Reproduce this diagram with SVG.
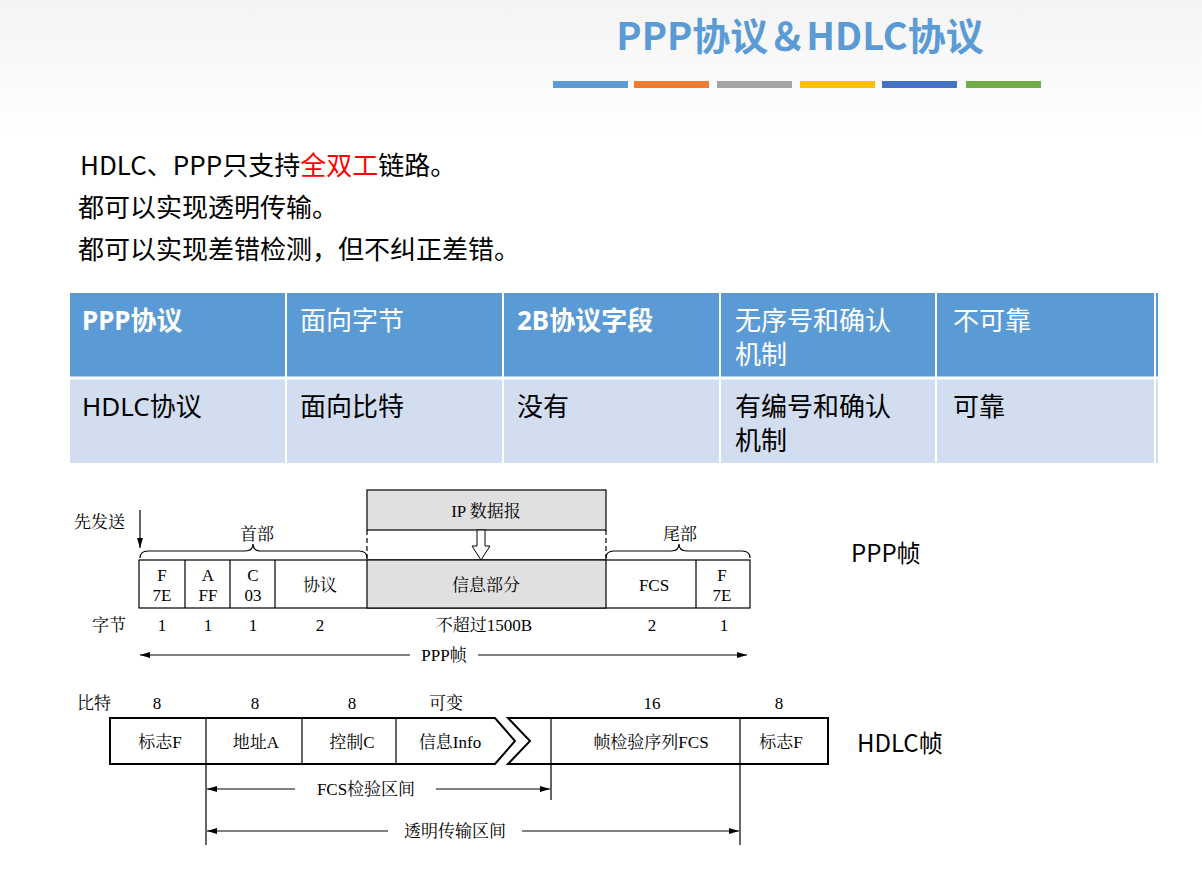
<svg xmlns="http://www.w3.org/2000/svg" width="1202" height="881" viewBox="0 0 1202 881">
<defs>
<linearGradient id="bg" x1="0" y1="0" x2="0" y2="1"><stop offset="0" stop-color="#f4f4f4"/><stop offset="0.15" stop-color="#ffffff"/><stop offset="1" stop-color="#ffffff"/></linearGradient>
<marker id="ar" viewBox="0 0 10 6" refX="10" refY="3" markerWidth="10" markerHeight="6" orient="auto-start-reverse" markerUnits="userSpaceOnUse"><path d="M0,0L10,3L0,6z" fill="#000"/></marker>
<style>
.s{font-family:"Noto Sans CJK SC","Noto Sans",sans-serif}
.f{font-family:"Liberation Serif","Noto Serif CJK SC","Noto Sans CJK SC",serif;font-size:17px;fill:#000}
.th{font-family:"Noto Sans","Noto Sans CJK SC",sans-serif;font-size:26px;fill:#fff}
.td{font-family:"Noto Sans","Noto Sans CJK SC",sans-serif;font-size:26px;fill:#000}
.b{fill:#fff;stroke:#000;stroke-width:1.2}
.l{stroke:#000;stroke-width:1.2;fill:none}
</style>
</defs>
<rect width="1202" height="881" fill="url(#bg)"/>
<text x="800" y="50" text-anchor="middle" class="s" font-size="38" font-weight="bold" fill="#5b9bd5">PPP协议＆HDLC协议</text>
<g id="bars">
<rect x="553" y="81" width="75" height="7" fill="#5b9bd5"/><rect x="634" y="81" width="75" height="7" fill="#ed7d31"/><rect x="717" y="81" width="75" height="7" fill="#a5a5a5"/><rect x="800" y="81" width="75" height="7" fill="#ffc000"/><rect x="882" y="81" width="75" height="7" fill="#4472c4"/><rect x="966" y="81" width="75" height="7" fill="#70ad47"/>
</g>
<g class="s" font-size="26" fill="#000">
<text x="80" y="175">HDLC、PPP只支持<tspan fill="#ff0000">全双工</tspan>链路。</text>
<text x="78" y="217">都可以实现透明传输。</text>
<text x="78" y="259">都可以实现差错检测，但不纠正差错。</text>
</g>
<g id="table">
<rect x="70" y="293" width="1088" height="84" fill="#5b9bd5"/>
<rect x="70" y="379" width="1088" height="84" fill="#d2deef"/>
<g stroke="#fff" stroke-width="2"><line x1="286" y1="293" x2="286" y2="463"/><line x1="503" y1="293" x2="503" y2="463"/><line x1="720" y1="293" x2="720" y2="463"/><line x1="936" y1="293" x2="936" y2="463"/><line x1="1155" y1="293" x2="1155" y2="463"/><line x1="70" y1="378" x2="1158" y2="378" stroke-width="3"/></g>
<text class="th" font-weight="bold" x="82" y="330">PPP协议</text>
<text class="th" x="300" y="330">面向字节</text>
<text class="th" font-weight="bold" x="517" y="330">2B协议字段</text>
<text class="th" x="735" y="330">无序号和确认</text><text class="th" x="735" y="364">机制</text>
<text class="th" x="953" y="330">不可靠</text>
<text class="td" x="82" y="416">HDLC协议</text>
<text class="td" x="300" y="416">面向比特</text>
<text class="td" x="517" y="416">没有</text>
<text class="td" x="735" y="416">有编号和确认</text><text class="td" x="735" y="450">机制</text>
<text class="td" x="953" y="416">可靠</text>
</g>
<g id="ppp">
<rect x="68" y="482" width="688" height="186" fill="#fff"/>
<rect x="367" y="490" width="239" height="40" fill="#e0e0e0" stroke="#000" stroke-width="1.2"/>
<text class="f" x="486" y="517" text-anchor="middle">IP 数据报</text>
<path class="l" d="M367,530V560M606,530V560" stroke-dasharray="5,3"/>
<path d="M477,530h8v16h5l-9,14l-9,-14h5z" fill="#fff" stroke="#000"/>
<rect class="b" x="139" y="560" width="611" height="48"/>
<rect x="367" y="560" width="239" height="48" fill="#e0e0e0" stroke="#000" stroke-width="1.2"/>
<path class="l" d="M185,560V608M230,560V608M275,560V608M696,560V608"/>
<path class="l" d="M140,558q0,-7 8,-7h97q8,0 8,-7q0,7 8,7h98q8,0 8,7"/>
<path class="l" d="M606,558q0,-7 8,-7h57q8,0 8,-7q0,7 8,7h55q8,0 8,7"/>
<line x1="140" y1="510" x2="140" y2="548" class="l" marker-end="url(#ar)"/>
<text class="f" x="74" y="528">先发送</text>
<text class="f" x="257" y="540" text-anchor="middle">首部</text>
<text class="f" x="680" y="540" text-anchor="middle">尾部</text>
<g class="f" text-anchor="middle">
<text x="162" y="581">F</text><text x="162" y="601">7E</text>
<text x="208" y="581">A</text><text x="208" y="601">FF</text>
<text x="253" y="581">C</text><text x="253" y="601">03</text>
<text x="320" y="591">协议</text><text x="486" y="591">信息部分</text><text x="654" y="591">FCS</text>
<text x="722" y="581">F</text><text x="722" y="601">7E</text>
<text x="109" y="631">字节</text><text x="162" y="631">1</text><text x="208" y="631">1</text><text x="253" y="631">1</text><text x="320" y="631">2</text><text x="484" y="631">不超过1500B</text><text x="652" y="631">2</text><text x="724" y="631">1</text>
<text x="444" y="661">PPP帧</text>
</g>
<line class="l" x1="410" y1="655" x2="140" y2="655" marker-end="url(#ar)"/>
<line class="l" x1="478" y1="655" x2="747" y2="655" marker-end="url(#ar)"/>
</g>
<g id="hdlc">
<rect x="68" y="682" width="770" height="166" fill="#fff"/>
<path d="M110,718H495L515,741L495,764H110z" fill="#fff" stroke="#000" stroke-width="2"/>
<path d="M508,718H828V764H508L530,741z" fill="#fff" stroke="#000" stroke-width="2"/>
<path class="l" d="M206,718V845M302,718V764M396,718V764M551,718V800M740,718V845"/>
<g class="f" text-anchor="middle">
<text x="94" y="709">比特</text><text x="157" y="709">8</text><text x="255" y="709">8</text><text x="352" y="709">8</text><text x="446" y="709">可变</text><text x="652" y="709">16</text><text x="779" y="709">8</text>
<text x="160" y="748">标志F</text><text x="256" y="748">地址A</text><text x="352" y="748">控制C</text><text x="450" y="748">信息Info</text><text x="651" y="748">帧检验序列FCS</text><text x="781" y="748">标志F</text>
<text x="366" y="795">FCS检验区间</text><text x="455" y="837">透明传输区间</text>
</g>
<line class="l" x1="295" y1="789" x2="207" y2="789" marker-end="url(#ar)"/>
<line class="l" x1="436" y1="789" x2="550" y2="789" marker-end="url(#ar)"/>
<line class="l" x1="388" y1="831" x2="207" y2="831" marker-end="url(#ar)"/>
<line class="l" x1="522" y1="831" x2="739" y2="831" marker-end="url(#ar)"/>
</g>
<text class="s" x="851" y="562" font-size="24" fill="#000">PPP帧</text>
<text class="s" x="857" y="752" font-size="24" fill="#000">HDLC帧</text>
</svg>
